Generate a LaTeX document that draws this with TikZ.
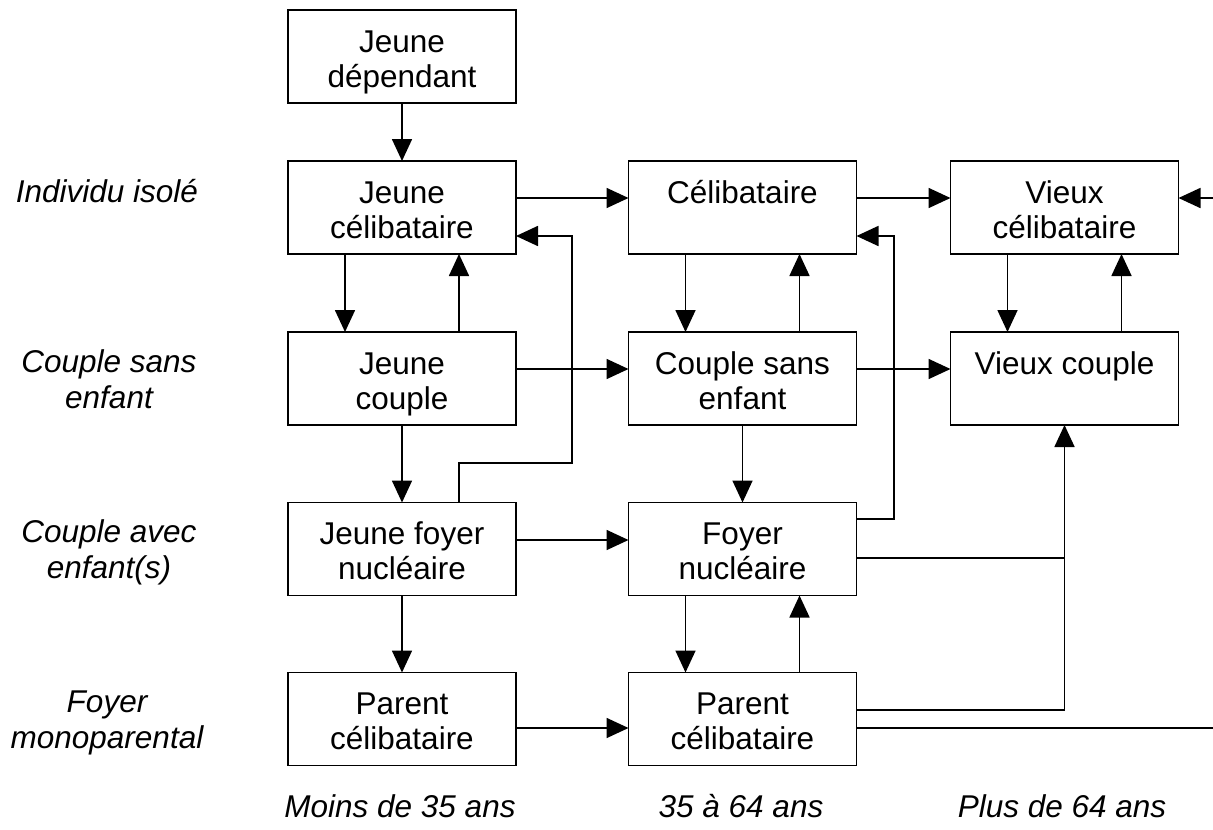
\documentclass[tikz,border=0pt]{standalone}
\usepackage{fontspec}
\setmainfont{Liberation Sans}
\usetikzlibrary{arrows.meta}
\newcommand\mlines[1]{\begin{tabular}[t]{@{}c@{}}#1\end{tabular}}
\begin{document}
\begin{tikzpicture}[x=1pt,y=-1pt,
  box/.style={draw,line width=1.7pt,minimum width=228pt,minimum height=93pt,inner sep=0pt,outer sep=0pt,
    text height=30.5pt,text depth=39.5pt,font=\fontsize{31.5}{35}\selectfont},
  lbl/.style={anchor=base,inner sep=0pt,font=\fontsize{31.5}{36}\selectfont\itshape},
  arr/.style={line width=1.7pt,-{Triangle[length=22pt,width=20pt]}},
  ln/.style={line width=1.7pt}]
\useasboundingbox (0,0) rectangle (1213,830);

% boxes
\node[box] (jd)   at (402,56.5)    {\mlines{Jeune\\dépendant}};
\node[box] (jc)   at (402,207.5)   {\mlines{Jeune\\célibataire}};
\node[box] (jcp)  at (402,378.5)   {\mlines{Jeune\\couple}};
\node[box] (jfn)  at (402,549)     {\mlines{Jeune foyer\\nucléaire}};
\node[box] (pc1)  at (402,719)     {\mlines{Parent\\célibataire}};
\node[box] (cel)  at (742.5,207.5) {\mlines{Célibataire}};
\node[box] (csa)  at (742.5,378.5) {\mlines{Couple sans\\enfant}};
\node[box] (fn)   at (742.5,549)   {\mlines{Foyer\\nucléaire}};
\node[box] (pc2)  at (742.5,719)   {\mlines{Parent\\célibataire}};
\node[box] (vcel) at (1064.5,207.5){\mlines{Vieux\\célibataire}};
\node[box] (vcp)  at (1064.5,378.5){\mlines{Vieux couple}};

% row labels
\node[lbl] (l1) at (107,202) {\mlines{Individu isolé}};
\node[lbl] (l2) at (109,372) {\mlines{Couple sans\\enfant}};
\node[lbl] (l3) at (109,542) {\mlines{Couple avec\\enfant(s)}};
\node[lbl] (l4) at (107,712) {\mlines{Foyer\\monoparental}};
% column labels
\node[lbl] (c1) at (400,817)  {Moins de 35 ans};
\node[lbl] (c2) at (741,817)  {35 à 64 ans};
\node[lbl] (c3) at (1062,817) {Plus de 64 ans};

% vertical arrows
\draw[arr] (jd.south) -- (jc.north);
\draw[arr] ([xshift=-57pt]jc.south) -- ([xshift=-57pt]jcp.north);
\draw[arr] ([xshift=57pt]jcp.north) -- ([xshift=57pt]jc.south);
\draw[arr] (jcp.south) -- (jfn.north);
\draw[arr] (jfn.south) -- (pc1.north);
\draw[arr] ([xshift=-57pt]cel.south) -- ([xshift=-57pt]csa.north);
\draw[arr] ([xshift=57pt]csa.north) -- ([xshift=57pt]cel.south);
\draw[arr] (csa.south) -- (fn.north);
\draw[arr] ([xshift=-57pt]fn.south) -- ([xshift=-57pt]pc2.north);
\draw[arr] ([xshift=57pt]pc2.north) -- ([xshift=57pt]fn.south);
\draw[arr] ([xshift=-57pt]vcel.south) -- ([xshift=-57pt]vcp.north);
\draw[arr] ([xshift=57pt]vcp.north) -- ([xshift=57pt]vcel.south);

% horizontal arrows
\draw[arr] ([yshift=9.5pt]jc.east) -- ([yshift=9.5pt]cel.west);
\draw[arr] ([yshift=9.5pt]cel.east) -- ([yshift=9.5pt]vcel.west);
\draw[arr] ([yshift=9.5pt]jcp.east) -- ([yshift=9.5pt]csa.west);
\draw[arr] ([yshift=9.5pt]csa.east) -- ([yshift=9.5pt]vcp.west);
\draw[arr] ([yshift=9pt]jfn.east) -- ([yshift=9pt]fn.west);
\draw[arr] ([yshift=-9pt]pc1.east) -- ([yshift=-9pt]pc2.west);

% incoming from the right edge
\coordinate (re1) at (1213,198);
\draw[arr] (re1) -- (vcel.east |- re1);

% feedback loops
\coordinate (k1) at (572,463);
\coordinate (k2) at (572,236);
\draw[arr] ([xshift=57pt]jfn.north) |- (k1) -- (k2) -- (jc.east |- k2);
\coordinate (k3) at (894,519);
\coordinate (k4) at (894,236);
\draw[arr] (fn.east |- k3) -- (k3) -- (k4) -- (cel.east |- k4);

% to vieux couple
\coordinate (k5) at ([yshift=-9pt]fn.east -| vcp.south);
\draw[arr] ([yshift=-9pt]fn.east) -- (k5) -- (vcp.south);
\draw[ln] ([yshift=9pt]pc2.east) -| (k5);
\coordinate (re2) at (1213,728);
\draw[ln] ([yshift=-9pt]pc2.east) -- (re2);
\end{tikzpicture}
\end{document}
